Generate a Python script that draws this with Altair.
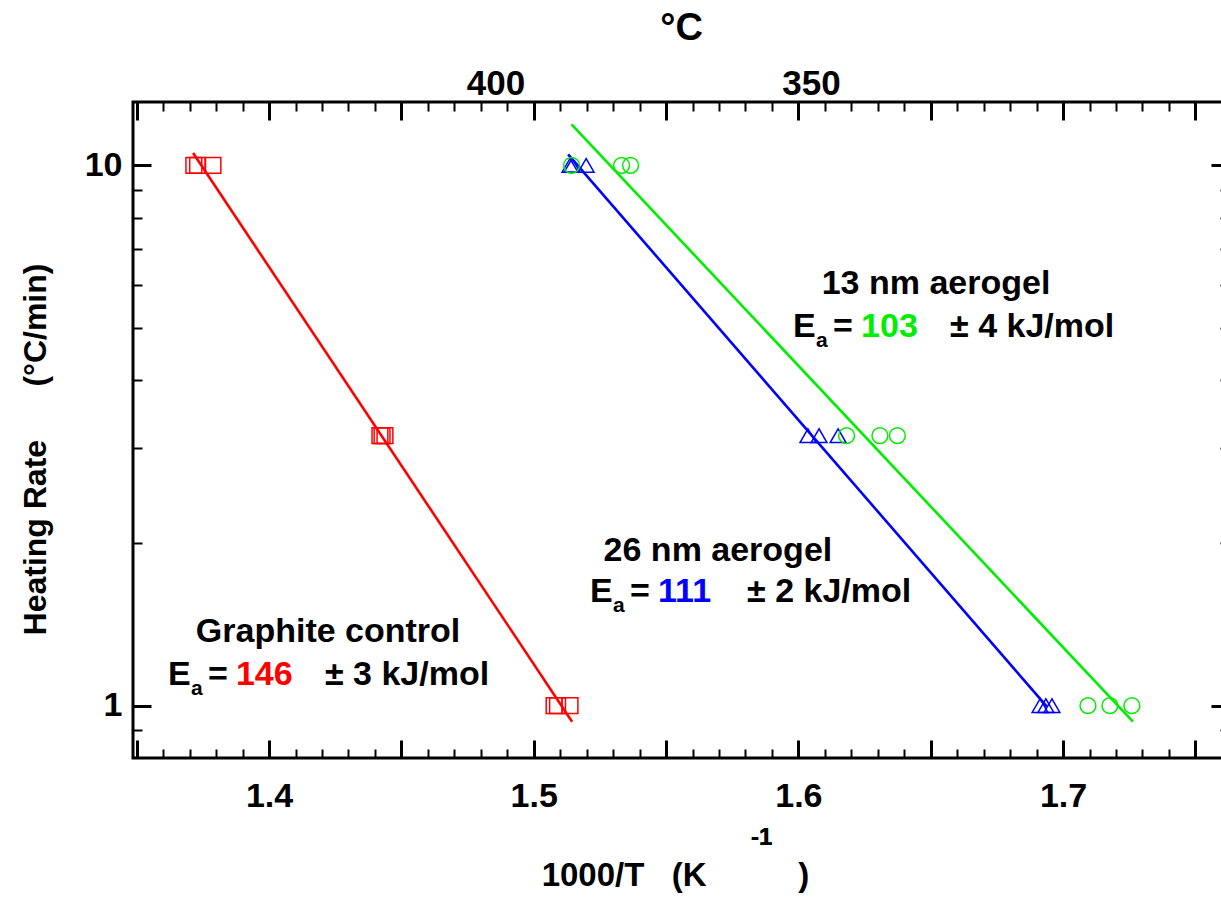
import altair as alt
import pandas as pd

# ---------------- data ----------------
series_names = ["Graphite control", "26 nm aerogel", "13 nm aerogel"]
series_colors = ["#ff0000", "#0000ff", "#00ee00"]
series_shapes = ["square", "triangle-up", "circle"]

graphite_x = [1.3716, 1.3730, 1.3788, 1.4419, 1.4427, 1.4438, 1.5077, 1.5090, 1.5137]
graphite_y = [10, 10, 10, 3.16, 3.16, 3.16, 1, 1, 1]
aero26_x = [1.5137, 1.5145, 1.5198, 1.6036, 1.6078, 1.6150, 1.6913, 1.6935, 1.6958]
aero26_y = [10, 10, 10, 3.16, 3.16, 3.16, 1, 1, 1]
aero13_x = [1.5143, 1.5332, 1.5366, 1.6182, 1.6308, 1.6374, 1.7094, 1.7177, 1.7260]
aero13_y = [10, 10, 10, 3.16, 3.16, 3.16, 1, 1, 1]

# fitted Arrhenius lines (end points)
fit_graphite_x = [1.3713, 1.5145]
fit_graphite_y = [10.54, 0.934]
fit_26_x = [1.5130, 1.6939]
fit_26_y = [10.48, 0.996]
fit_13_x = [1.5143, 1.7264]
fit_13_y = [11.91, 0.934]

# annotations
title_x = [1.4223, 1.5696, 1.6520]
title_y = [1.370, 1.934, 6.03]
ea_x = [1.3618, 1.5213, 1.5980]
ea_y = [1.141, 1.625, 5.02]
ea_values = ["146", "111", "103"]
ea_errors = ["\u00b1 3 kJ/mol", "\u00b1 2 kJ/mol", "\u00b1 4 kJ/mol"]

# axes
x_major = [1.35, 1.40, 1.45, 1.50, 1.55, 1.60, 1.65, 1.70, 1.75]
x_minor = [round(1.35 + 0.01 * i, 2) for i in range(42)]
y_major = [1, 10]
y_minor = [0.9, 2, 3, 4, 5, 6, 7, 8, 9]
celsius_labels = [400, 350]
celsius_pos = [1000.0 / (c + 273.15) for c in celsius_labels]

# ---------------- tables ----------------
pts = pd.DataFrame({
    "x": graphite_x + aero26_x + aero13_x,
    "y": graphite_y + aero26_y + aero13_y,
    "series": [series_names[0]] * len(graphite_x) + [series_names[1]] * len(aero26_x)
    + [series_names[2]] * len(aero13_x),
})
fits = pd.DataFrame({
    "x": fit_graphite_x + fit_26_x + fit_13_x,
    "y": fit_graphite_y + fit_26_y + fit_13_y,
    "series": [series_names[0]] * 2 + [series_names[1]] * 2 + [series_names[2]] * 2,
})
ann = pd.DataFrame({
    "series": series_names, "tx": title_x, "ty": title_y,
    "ex": ea_x, "ey": ea_y, "val": ea_values, "err": ea_errors,
})

FONT = "Liberation Sans"
NB = "\u00a0"

x_scale = alt.Scale(type="linear", domain=[1.3486, 1.7627], zero=False, nice=False)
y_scale = alt.Scale(type="log", domain=[0.8, 13.1], nice=False)
color_scale = alt.Scale(domain=series_names, range=series_colors)
shape_scale = alt.Scale(domain=series_names, range=series_shapes)

common = dict(domain=False, grid=False, tickColor="black", labelColor="black",
              titleColor="black", labelFont=FONT, titleFont=FONT,
              labelFontWeight="bold", titleFontWeight="bold")


def axis(**kw):
    d = dict(common)
    d.update(kw)
    return alt.Axis(**d)


ax_bottom_major = axis(orient="bottom", offset=-18, tickSize=18, tickWidth=3,
                       values=x_major,
                       labelExpr="abs(datum.value*10 - round(datum.value*10)) < 0.001 ? format(datum.value, '.1f') : ''",
                       labelFontSize=34, labelPadding=21,
                       title="1000/T" + NB * 3 + "(K" + NB * 10 + ")",
                       titleFontSize=33, titlePadding=46, titleX=542)
ax_bottom_minor = axis(orient="bottom", offset=-9, tickSize=9, tickWidth=2,
                       values=x_minor, labels=False, title=None)
ax_top_major = axis(orient="top", offset=-18, tickSize=18, tickWidth=3,
                    values=x_major, labels=False, title=None)
ax_top_minor = axis(orient="top", offset=-9, tickSize=9, tickWidth=2,
                    values=x_minor, labels=False, title=None)
ax_top_c = axis(orient="top", offset=0, ticks=False, tickSize=0, values=celsius_pos,
                labelExpr="datum.value < 1.55 ? '400' : '350'",
                labelFontSize=35, labelPadding=1,
                title="\u00b0C", titleFontSize=38, titlePadding=19)

ax_left_major = axis(orient="left", offset=-18, tickSize=18, tickWidth=3,
                     values=y_major, labelExpr="format(datum.value, 'd')",
                     labelFontSize=34, labelPadding=11,
                     title="Heating Rate" + NB * 6 + "(\u00b0C/min)",
                     titleFontSize=32, titlePadding=32, titleY=347)
ax_left_minor = axis(orient="left", offset=-9, tickSize=9, tickWidth=2,
                     values=y_minor, labels=False, title=None)
ax_right_major = axis(orient="right", offset=-18, tickSize=18, tickWidth=3,
                      values=y_major, labels=False, title=None)
ax_right_minor = axis(orient="right", offset=-9, tickSize=9, tickWidth=2,
                      values=y_minor, labels=False, title=None)


def X(ax):
    return alt.X("x:Q", scale=x_scale, axis=ax)


def Y(ax):
    return alt.Y("y:Q", scale=y_scale, axis=ax)


points = alt.Chart(pts).mark_point(filled=False, size=250, strokeWidth=1.5, opacity=1).encode(
    x=X(ax_bottom_major), y=Y(ax_left_major),
    color=alt.Color("series:N", scale=color_scale, legend=None),
    shape=alt.Shape("series:N", scale=shape_scale, legend=None),
)
lines = alt.Chart(fits).mark_line(strokeWidth=2.6).encode(
    x=X(ax_bottom_minor), y=Y(ax_left_minor),
    color=alt.Color("series:N", scale=color_scale, legend=None),
    detail="series:N",
)
helper1 = alt.Chart(pts).mark_point(opacity=0).encode(x=X(ax_top_major), y=Y(ax_right_major))
helper2 = alt.Chart(pts).mark_point(opacity=0).encode(x=X(ax_top_minor), y=Y(ax_right_minor))
helper3 = alt.Chart(pts).mark_point(opacity=0).encode(x=X(ax_top_c), y=Y(None))

FS = 34
tx = alt.X("tx:Q", scale=x_scale, axis=None)
ty = alt.Y("ty:Q", scale=y_scale, axis=None)
ex = alt.X("ex:Q", scale=x_scale, axis=None)
ey = alt.Y("ey:Q", scale=y_scale, axis=None)

t_title = alt.Chart(ann).mark_text(font=FONT, fontWeight="bold", fontSize=FS,
                                   align="center", baseline="middle", color="black").encode(
    x=tx, y=ty, text="series:N")
t_E = alt.Chart(ann).mark_text(font=FONT, fontWeight="bold", fontSize=FS,
                               align="left", baseline="middle", color="black").encode(
    x=ex, y=ey, text=alt.value("E"))
t_a = alt.Chart(ann).mark_text(font=FONT, fontWeight="bold", fontSize=21,
                               align="left", baseline="middle", color="black",
                               dx=23, dy=14).encode(x=ex, y=ey, text=alt.value("a"))
t_eq = alt.Chart(ann).mark_text(font=FONT, fontWeight="bold", fontSize=FS,
                                align="left", baseline="middle", color="black",
                                dx=40).encode(x=ex, y=ey, text=alt.value("="))
t_val = alt.Chart(ann).mark_text(font=FONT, fontWeight="bold", fontSize=FS,
                                 align="left", baseline="middle", dx=68).encode(
    x=ex, y=ey, text="val:N",
    color=alt.Color("series:N", scale=color_scale, legend=None))
t_err = alt.Chart(ann).mark_text(font=FONT, fontWeight="bold", fontSize=FS,
                                 align="left", baseline="middle", color="black",
                                 dx=157).encode(x=ex, y=ey, text="err:N")
t_sup = alt.Chart(ann).mark_text(font=FONT, fontWeight="bold", fontSize=24,
                                 align="left", baseline="middle", color="black").encode(
    x=alt.value(618), y=alt.value(736), text=alt.value("-1"))

chart = alt.layer(
    lines, points, helper1, helper2, helper3,
    t_title, t_E, t_a, t_eq, t_val, t_err, t_sup,
).resolve_scale(
    x="shared", y="shared"
).resolve_axis(
    x="independent", y="independent"
).properties(
    width=1096, height=656,
    autosize=alt.AutoSizeParams(type="none"),
    padding={"left": 133, "top": 102, "right": -8, "bottom": 140},
    background="white",
).configure_view(
    stroke="black", strokeWidth=3
)

chart.save("out.html", embed_options={"renderer": "svg", "actions": False})
